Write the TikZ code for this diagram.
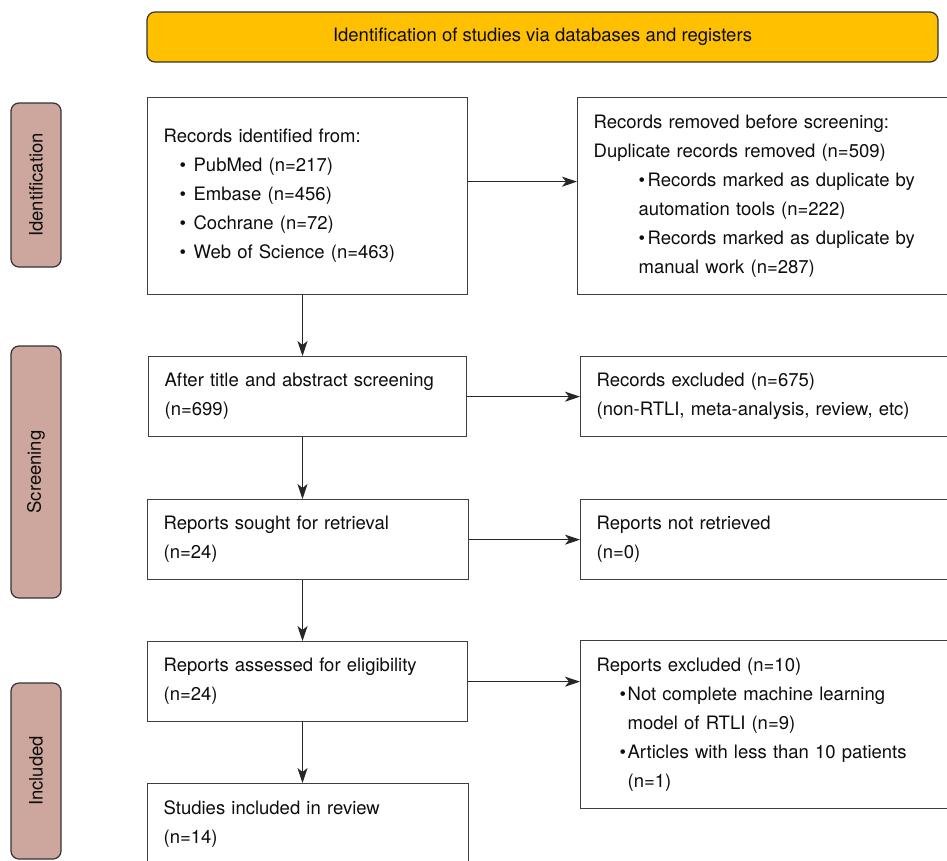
\documentclass[tikz,border=0pt]{standalone}
\usepackage{fontspec}
\setmainfont{TeX Gyre Heros}
\usetikzlibrary{arrows.meta,positioning}
\definecolor{bannergold}{RGB}{255,192,0}
\definecolor{phasepink}{RGB}{205,167,157}
\definecolor{edgegray}{RGB}{62,62,62}
\newcommand{\itm}[2]{\hspace*{#1}\makebox[#2][l]{\textbullet}}

\begin{document}
\begin{tikzpicture}[x=1pt,y=-1pt,>={Stealth[length=15pt,width=10pt,inset=4pt]},
  box/.style={draw=edgegray,line width=1.3pt,rectangle,anchor=north west,align=left,
    inner xsep=16pt,inner ysep=0pt,font=\fontsize{18.5}{29}\selectfont,text=black!95},
  phase/.style={draw=black!80,fill=phasepink,line width=1.2pt,rounded corners=8pt,
    rotate=90,minimum height=50pt,inner sep=0pt,font=\fontsize{18.5}{22}\selectfont,text=black!95},
  banner/.style={draw=black!80,fill=bannergold,line width=1.2pt,rounded corners=8pt,
    minimum width=791pt,minimum height=50pt,font=\fontsize{18.5}{22}\selectfont,text=black!95},
  flow/.style={->,draw=black!85,line width=1.2pt}]
  \useasboundingbox (0,0) rectangle (947,860);
  \clip (0,0) rectangle (947,860);

  % header and phases
  \node[banner] (head) at (542.5,37) {Identification of studies via databases and registers};
  \node[phase,minimum width=164pt] (ident) at (36,185) {Identification};
  \node[phase,minimum width=252pt] (screen) at (36,472) {Screening};
  \node[phase,minimum width=176pt] (incl) at (36,771) {Included};

  % main column
  \node[box,text width=288pt,minimum height=197pt] (records) at (147,97)
    {Records identified from:\\
     \itm{16pt}{14pt}PubMed (n=217)\\
     \itm{16pt}{14pt}Embase (n=456)\\
     \itm{16pt}{14pt}Cochrane (n=72)\\
     \itm{16pt}{14pt}Web of Science (n=463)};
  \node[box,text width=286pt,minimum height=80pt] (screened) at (148,356)
    {After title and abstract screening\\(n=699)};
  \node[box,text width=289pt,minimum height=80pt] (sought) at (147,499)
    {Reports sought for retrieval\\(n=24)};
  \node[box,text width=288pt,minimum height=80pt] (assessed) at (147,641)
    {Reports assessed for eligibility\\(n=24)};
  \node[box,text width=289pt,minimum height=80pt] (included) at (147,783)
    {Studies included in review\\(n=14)};

  % side column
  \node[box,text width=388pt,minimum height=197pt] (removed) at (577,97)
    {Records removed before screening:\\
     Duplicate records removed (n=509)\\
     \itm{45pt}{9pt}Records marked as duplicate by\\
     \hspace*{45pt}automation tools (n=222)\\
     \itm{45pt}{9pt}Records marked as duplicate by\\
     \hspace*{45pt}manual work (n=287)};
  \node[box,text width=388pt,minimum height=80pt] (excluded) at (580,356)
    {Records excluded (n=675)\\(non-RTLI, meta-analysis, review, etc)};
  \node[box,text width=388pt,minimum height=80pt] (notret) at (580,499)
    {Reports not retrieved\\(n=0)};
  \node[box,text width=388pt,minimum height=168pt] (repexcl) at (580,640)
    {Reports excluded (n=10)\\
     \itm{23pt}{8pt}Not complete machine learning\\
     \hspace*{31pt}model of RTLI (n=9)\\
     \itm{23pt}{8pt}Articles with less than 10 patients\\
     \hspace*{31pt}(n=1)};

  % connectors
  \coordinate (spine) at (302.5,0);
  \draw[flow] (records.south -| spine) -- (screened.north -| spine);
  \draw[flow] (screened.south -| spine) -- (sought.north -| spine);
  \draw[flow] (sought.south -| spine) -- (assessed.north -| spine);
  \draw[flow] (assessed.south -| spine) -- (included.north -| spine);
  \draw[flow] ([yshift=14.5pt]records.east) -- ([yshift=14.5pt]records.east -| removed.west);
  \draw[flow] (screened.east) -- (screened.east -| excluded.west);
  \draw[flow] (sought.east) -- (sought.east -| notret.west);
  \draw[flow] (assessed.east) -- (assessed.east -| repexcl.west);
\end{tikzpicture}
\end{document}
